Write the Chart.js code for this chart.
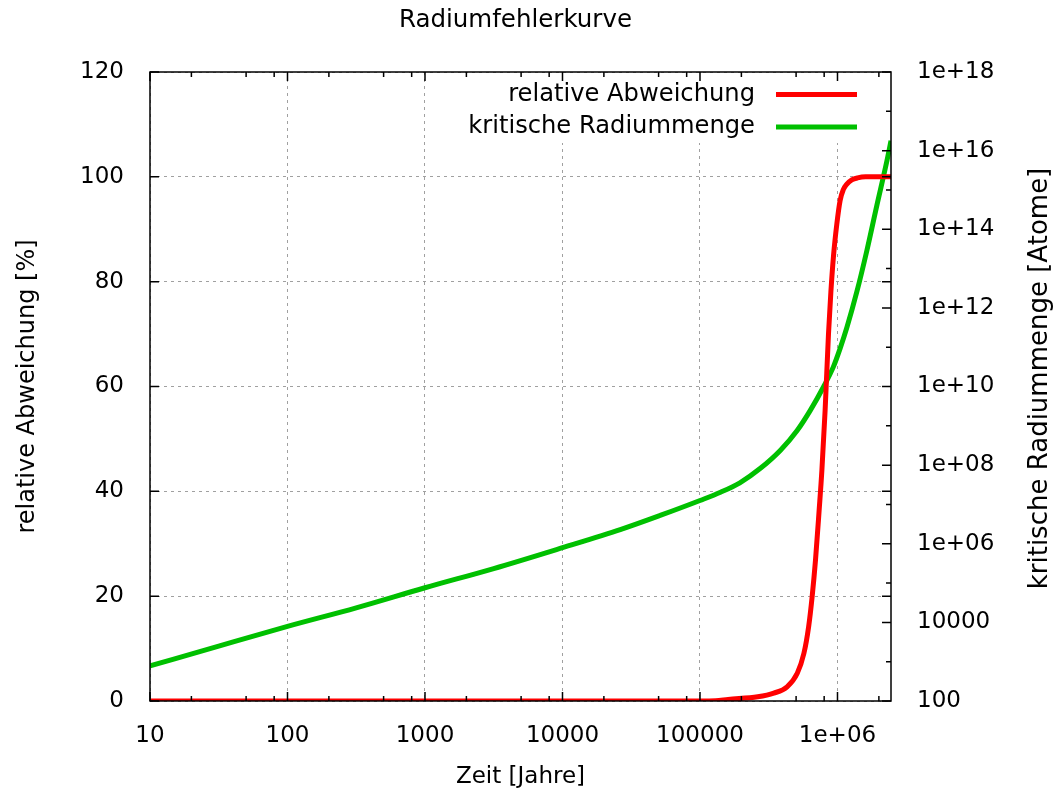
<!DOCTYPE html>
<html>
<head>
<meta charset="utf-8">
<script src="https://cdn.jsdelivr.net/npm/chart.js@4"></script>
<style>
  html, body { margin: 0; padding: 0; background: #fff; }
  #wrap { width: 1061px; height: 798px; }
</style>
</head>
<body>
<div id="wrap"><canvas id="chart" width="1061" height="798"></canvas></div>
<script>
const zeitRot = [10, 100000, 130000, 160000, 263000, 344000, 430000, 510000, 570000, 617000,
  654000, 692000, 735000, 770000, 813000, 860000, 895000, 936000, 989000, 1045000,
  1100000, 1170000, 1270000, 1400000, 1600000, 2450000];
const abweichung = [0, 0, 0.05, 0.3, 0.8, 1.5, 2.7, 5.3, 9.1, 14.2,
  19.9, 26.9, 36.3, 44, 55.5, 70, 78, 85, 91, 95.5,
  97.5, 98.6, 99.4, 99.8, 100, 100];

const zeitGruen = [10, 31.6, 100, 316, 1000, 3160, 10000, 26300, 51300, 100000,
  141000, 195000, 275000, 385000, 509000, 631000, 794000, 933000, 1047000, 1170000,
  1380000, 1633000, 1932000, 2291000, 2450000];
const radiummenge = [780, 2500, 7900, 23400, 75900, 234000, 794000, 2.29e6, 5.25e6, 1.26e7,
  2.04e7, 3.55e7, 8.3e7, 2.4e8, 7.6e8, 2.4e9, 1e10, 3.16e10, 9.5e10, 3.16e11,
  2.5e12, 2.8e13, 4e14, 5.6e15, 1.78e16];

// Achsen
const xTicks = [10, 100, 1000, 10000, 100000, 1000000];
const xTickLabels = ['10', '100', '1000', '10000', '100000', '1e+06'];
const xMinor = [2, 5, 8];
const yTicks = [0, 20, 40, 60, 80, 100, 120];
const y2Ticks = [1e2, 1e4, 1e6, 1e8, 1e10, 1e12, 1e14, 1e16, 1e18];
const y2TickLabels = ['100', '10000', '1e+06', '1e+08', '1e+10', '1e+12', '1e+14', '1e+16', '1e+18'];

const FONT = "'DejaVu Sans', sans-serif";
Chart.defaults.font.family = FONT;
Chart.defaults.font.size = 23;
Chart.defaults.color = '#000';

const gridGrau = '#a0a0a0';

// Rahmen, Tics nach innen, Key und rechter Achsentitel wie bei gnuplot
const gnuplotLook = {
  id: 'gnuplotLook',
  beforeDatasetsDraw(chart) {
    const { ctx, chartArea: a } = chart;
    ctx.save();
    ctx.fillStyle = '#fff';
    ctx.fillRect(a.right - 436, a.top + 1, 435, 70);  // Key verdeckt das Gitter
    ctx.restore();
  },
  afterDatasetsDraw(chart) {
    const { ctx, chartArea: a, scales } = chart;
    ctx.save();
    ctx.strokeStyle = '#000';
    ctx.lineWidth = 1.5;
    ctx.beginPath();
    xTicks.forEach(d => {
      [1, ...xMinor].forEach(m => {
        const v = d * m;
        if (v > scales.x.max) return;
        const px = scales.x.getPixelForValue(v);
        const len = m === 1 ? 9 : 5;
        ctx.moveTo(px, a.bottom); ctx.lineTo(px, a.bottom - len);
        ctx.moveTo(px, a.top); ctx.lineTo(px, a.top + len);
      });
    });
    yTicks.forEach(v => {
      const py = scales.y.getPixelForValue(v);
      ctx.moveTo(a.left, py); ctx.lineTo(a.left + 9, py);
      ctx.moveTo(a.right, py); ctx.lineTo(a.right - 9, py);
    });
    for (let k = 2; k <= 18; k++) {
      const py = scales.y2.getPixelForValue(Math.pow(10, k));
      ctx.moveTo(a.right, py); ctx.lineTo(a.right - (k % 2 === 0 ? 9 : 5), py);
    }
    ctx.stroke();
    ctx.strokeRect(a.left, a.top, a.right - a.left, a.bottom - a.top);

    // Key
    ctx.font = '24.2px ' + FONT;
    ctx.textAlign = 'right';
    ctx.textBaseline = 'middle';
    chart.data.datasets.forEach((ds, i) => {
      const y = a.top + 22.5 + i * 32.5;
      ctx.fillStyle = '#000';
      ctx.fillText(ds.label, a.right - 136, y);
      ctx.strokeStyle = ds.borderColor;
      ctx.lineWidth = 5;
      ctx.beginPath();
      ctx.moveTo(a.right - 115, y);
      ctx.lineTo(a.right - 34, y);
      ctx.stroke();
    });

    // rechter Achsentitel, von unten nach oben gelesen
    ctx.font = '26px ' + FONT;
    ctx.translate(scales.y2.right + 9, (a.top + a.bottom) / 2 - 8);
    ctx.rotate(-Math.PI / 2);
    ctx.textAlign = 'center';
    ctx.fillStyle = '#000';
    ctx.fillText('kritische Radiummenge [Atome]', 0, 0);
    ctx.restore();
  }
};

new Chart(document.getElementById('chart'), {
  type: 'line',
  data: {
    datasets: [
      {
        label: 'relative Abweichung',
        data: zeitRot.map((t, i) => ({ x: t, y: abweichung[i] })),
        borderColor: '#ff0000',
        borderWidth: 5,
        pointRadius: 0,
        cubicInterpolationMode: 'monotone',
        yAxisID: 'y'
      },
      {
        label: 'kritische Radiummenge',
        data: zeitGruen.map((t, i) => ({ x: t, y: radiummenge[i] })),
        borderColor: '#00c000',
        borderWidth: 5,
        pointRadius: 0,
        cubicInterpolationMode: 'monotone',
        yAxisID: 'y2'
      }
    ]
  },
  options: {
    responsive: false,
    devicePixelRatio: 1,
    animation: false,
    events: [],
    layout: { padding: { right: 30 } },
    plugins: {
      legend: { display: false },
      tooltip: { enabled: false },
      title: {
        display: true,
        text: 'Radiumfehlerkurve',
        color: '#000',
        font: { size: 24.5, weight: 'normal' },
        padding: { top: 6, bottom: 36.6 }
      }
    },
    scales: {
      x: {
        type: 'logarithmic',
        min: 10,
        max: 2450000,
        afterBuildTicks: s => { s.ticks = xTicks.map(v => ({ value: v })); },
        afterFit: s => { s.height = 97; },
        ticks: { autoSkip: false, maxRotation: 0, padding: 21, callback: (v, i) => xTickLabels[i] },
        grid: { color: gridGrau, lineWidth: 1, drawTicks: false },
        border: { display: false, dash: [3, 4] },
        title: { display: true, text: 'Zeit [Jahre]', padding: { top: 0, bottom: 7 } }
      },
      y: {
        position: 'left',
        min: 0,
        max: 120,
        afterBuildTicks: s => { s.ticks = yTicks.map(v => ({ value: v })); },
        afterFit: s => { s.width = 150; },
        ticks: { padding: 26 },
        grid: { color: gridGrau, lineWidth: 1, drawTicks: false },
        border: { display: false, dash: [3, 4] },
        title: { display: true, text: 'relative Abweichung [%]', font: { size: 24 }, padding: { top: 13.6, bottom: 0 } }
      },
      y2: {
        type: 'logarithmic',
        position: 'right',
        min: 100,
        max: 1e18,
        afterBuildTicks: s => { s.ticks = y2Ticks.map(v => ({ value: v })); },
        afterFit: s => { s.width = 140; },
        ticks: { autoSkip: false, padding: 26, callback: (v, i) => y2TickLabels[i] },
        grid: { drawOnChartArea: false, drawTicks: false },
        border: { display: false }
      }
    }
  },
  plugins: [gnuplotLook]
});
</script>
</body>
</html>
